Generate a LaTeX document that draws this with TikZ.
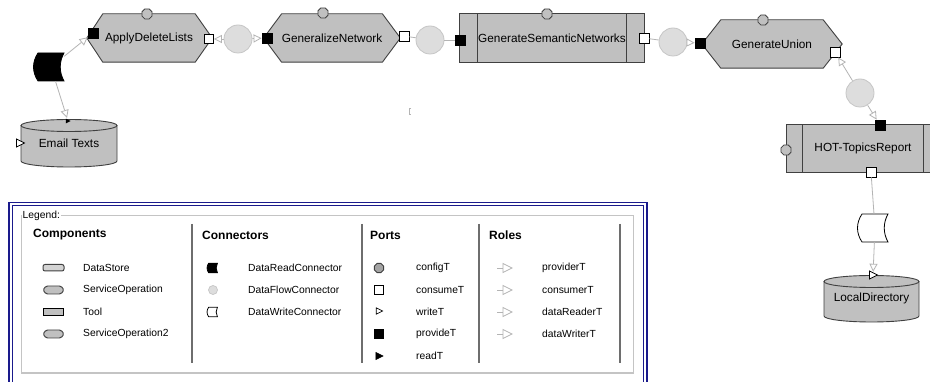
\documentclass[tikz,border=0pt]{standalone}
\usepackage{fontspec}
\setmainfont{Liberation Sans}
\usetikzlibrary{shapes.geometric,arrows.meta,calc}
\pgfdeclarelayer{bg}
\pgfsetlayers{bg,main}
\definecolor{compfill}{HTML}{C0C0C0}
\definecolor{compline}{HTML}{404040}
\definecolor{flowfill}{HTML}{DDDDDD}
\definecolor{flowline}{HTML}{C6C6C6}
\definecolor{wire}{HTML}{B4B4B4}
\definecolor{legblue}{HTML}{1A1A8C}
\definecolor{grpframe}{HTML}{C4C4C4}
\definecolor{sepcol}{HTML}{6E6E6E}
\tikzset{
  lbl/.style={font=\fontsize{11.8}{14}\selectfont, inner sep=0pt, text=black},
  compbox/.style={lbl, minimum height=48pt},
  shapefill/.style={fill=compfill, draw=compline, line width=0.9pt},
  prov/.style={draw=black, fill=black, minimum size=10pt, inner sep=0pt, line width=0.8pt},
  cons/.style={draw=black, fill=white, minimum size=10pt, inner sep=0pt, line width=0.8pt},
  cfg/.style={regular polygon, regular polygon sides=8, draw=compline, fill=compfill, minimum size=11pt, inner sep=0pt, line width=0.8pt},
  flow/.style={circle, fill=flowfill, draw=flowline, line width=0.8pt, minimum size=28pt, inner sep=0pt},
  wirel/.style={draw=wire, line width=0.8pt},
  role/.style={wirel, -{Triangle[fill=white, length=8pt, width=8pt]}},
  connbox/.style={minimum width=26pt, minimum height=28pt, inner sep=0pt},
  portpt/.style={circle, minimum size=6pt, inner sep=0pt},
  legtxt/.style={font=\fontsize{10.3}{12}\selectfont, anchor=west, inner sep=0pt},
  leghead/.style={font=\bfseries\fontsize{12}{14}\selectfont, anchor=west, inner sep=0pt},
  connshape/.pic={
    \path[pic actions] (-13pt,14pt) -- (13pt,14pt) .. controls (8pt,5pt) and (8pt,-5pt) .. (13pt,-14pt)
      -- (-13pt,-14pt) .. controls (-19pt,-5pt) and (-19pt,5pt) .. (-13pt,14pt) -- cycle;
  },
  wtri/.pic={
    \path[pic actions] (-3.5pt,4pt) -- (4.5pt,0pt) -- (-3.5pt,-4pt) -- cycle;
  },
  hexicon/.pic={
    \path[pic actions, rounded corners=1.5pt] (-10.5pt,0pt) -- (-7.5pt,4pt) -- (7.5pt,4pt) -- (10.5pt,0pt)
      -- (7.5pt,-4pt) -- (-7.5pt,-4pt) -- cycle;
  },
}
\begin{document}
\begin{tikzpicture}[x=1pt,y=-1pt]
\useasboundingbox (0,0) rectangle (930,382);
\clip (0,0) rectangle (930,382);

% ---------- components ----------
\node[compbox, minimum width=92pt] (adl) at (149,38) {ApplyDeleteLists};
\node[compbox, minimum width=99pt] (gn) at (332,38) {GeneralizeNetwork};
\node[compbox, minimum width=184pt] (gsn) at (552,38) {GenerateSemanticNetworks};
\node[compbox, minimum width=102pt] (gu) at (772,44) {GenerateUnion};
\node[compbox, minimum width=152pt, minimum height=47pt] (hot) at (863,148.5) {HOT-TopicsReport};
\node[lbl] (et) at (69,143) {Email Texts};
\node[lbl] (ld) at (871.5,298.5) {LocalDirectory};

\begin{pgfonlayer}{bg}
  \fill[white] (0,0) rectangle (930,382);
  \draw[shapefill] ($(adl.west)+(-16,0)$) -- (adl.north west) -- (adl.north east) -- ($(adl.east)+(17,0)$)
    -- (adl.south east) -- (adl.south west) -- cycle;
  \draw[shapefill] ($(gn.west)+(-18,0)$) -- (gn.north west) -- (gn.north east) -- ($(gn.east)+(18,0)$)
    -- (gn.south east) -- (gn.south west) -- cycle;
  \draw[shapefill] ($(gu.west)+(-19,0)$) -- (gu.north west) -- (gu.north east) -- ($(gu.east)+(19,0)$)
    -- (gu.south east) -- (gu.south west) -- cycle;
  \draw[shapefill] (gsn.north west) rectangle (gsn.south east);
  \draw[compline, line width=0.9pt] ($(gsn.north west)+(18,0)$) -- ($(gsn.south west)+(18,0)$);
  \draw[compline, line width=0.9pt] ($(gsn.north east)+(-18,0)$) -- ($(gsn.south east)+(-18,0)$);
  \draw[shapefill] (hot.north west) rectangle (hot.south east);
  \draw[compline, line width=0.9pt] ($(hot.north west)+(16,0)$) -- ($(hot.south west)+(16,0)$);
  \draw[compline, line width=0.9pt] ($(hot.north east)+(-16,0)$) -- ($(hot.south east)+(-16,0)$);
  % Email Texts cylinder
  \fill[compfill] (21,125.5) -- (21,161) arc[start angle=180, end angle=360, x radius=48pt, y radius=6pt] -- (117,125.5) -- cycle;
  \draw[compline, line width=0.9pt] (21,125.5) -- (21,161) arc[start angle=180, end angle=360, x radius=48pt, y radius=6pt] -- (117,125.5);
  \draw[shapefill] (69,125.5) ellipse [x radius=48pt, y radius=6pt];
  % LocalDirectory cylinder
  \fill[compfill] (824,281.5) -- (824,316) arc[start angle=180, end angle=360, x radius=47.5pt, y radius=6pt] -- (919,281.5) -- cycle;
  \draw[compline, line width=0.9pt] (824,281.5) -- (824,316) arc[start angle=180, end angle=360, x radius=47.5pt, y radius=6pt] -- (919,281.5);
  \draw[shapefill] (871.5,281.5) ellipse [x radius=47.5pt, y radius=6pt];
\end{pgfonlayer}

% ---------- ports and connectors ----------
\node[cfg] (adlcfg) at (147,14) {};
\node[prov] (adlprov) at (93,33) {};
\node[cons, minimum size=9pt] (adlcons) at (209,39) {};
\node[flow] (c1) at (238,39) {};
\node[prov] (gnprov) at (267,38) {};
\node[cfg] (gncfg) at (323,13) {};
\node[cons] (gncons) at (404,36) {};
\node[flow] (c2) at (430,40) {};
\node[prov] (gsnprov) at (460,40) {};
\node[cfg] (gsncfg) at (547,14) {};
\node[cons] (gsncons) at (644,38) {};
\node[flow] (c3) at (673,42) {};
\node[prov] (guprov) at (700,43) {};
\node[cfg] (gucfg) at (763,20) {};
\node[cons] (gucons) at (835,52) {};
\node[flow] (c4) at (860,93) {};
\node[prov] (hotprov) at (880,125) {};
\node[cfg] (hotcfg) at (786,150) {};
\node[cons] (hotcons) at (871,172) {};

\node[connbox] (rc) at (51,67) {};
\pic[draw=black, fill=black, line width=0.8pt] at (rc) {connshape};
\node[connbox] (wc) at (875,228) {};
\pic[draw=black, fill=white, line width=0.8pt] at (wc) {connshape};

\node[portpt] (etread) at (68,121) {};
\pic[fill=black, scale=0.6] at (etread) {wtri};
\node[portpt] (etwrite) at (20,143) {};
\pic[draw=black, fill=white, line width=0.7pt] at (etwrite) {wtri};
\node[portpt] (ldport) at (873,275) {};
\pic[draw=black, fill=white, line width=0.7pt] at (ldport) {wtri};

\draw[role] (rc) -- (adlprov);
\draw[role] (rc) -- (etread);
\draw[role] (c1) -- (adlcons);
\draw[role] (c1) -- (gnprov);
\draw[wirel] (gncons) -- (c2);
\draw[wirel] (c2) -- (gsnprov);
\draw[wirel] (gsncons) -- (c3);
\draw[role] (c3) -- (guprov);
\draw[role] (c4) -- (gucons);
\draw[role] (c4) -- (hotprov);
\draw[wirel] (hotcons) -- (wc);
\draw[role] (wc) -- (ldport);

% tiny mark
\draw[wire, line width=0.7pt] (411,108) -- (409,108) -- (409,114) -- (411,114);

% ---------- legend ----------
\draw[legblue, line width=1.3pt] (9,202.5) rectangle (647,400);
\draw[legblue, line width=1.3pt] (12.5,205.5) rectangle (643.5,400);
\draw[grpframe, line width=1pt] (21,216) rectangle (633,373);
\node[legtxt, fill=white, inner xsep=1pt] (legtitle) at (21.5,216) {Legend:};

\draw[sepcol, line width=1.4pt] (192,224) -- (192,363);
\draw[sepcol, line width=1.4pt] (362,224) -- (362,363);
\draw[sepcol, line width=1.4pt] (479,224) -- (479,363);
\draw[sepcol, line width=1.4pt] (620,224) -- (620,363);

\node[leghead] (hcomp) at (33,235) {Components};
\node[leghead] (hconn) at (202,235) {Connectors};
\node[leghead] (hport) at (370,235) {Ports};
\node[leghead] (hrole) at (489,235) {Roles};

% components column
\draw[compline, fill=compfill!70!white, line width=1pt, rounded corners=2pt] (43,264.5) rectangle (64,271);
\pic[draw=compline, fill=compfill, line width=0.9pt] at (53.5,290) {hexicon};
\draw[black, fill=compfill, line width=1.5pt] (43.5,308.5) rectangle (63.5,315.5);
\pic[draw=compline, fill=compfill, line width=0.9pt] at (53.5,334) {hexicon};
\node[legtxt] (lds) at (83,268) {DataStore};
\node[legtxt] (lso) at (83,290) {ServiceOperation};
\node[legtxt] (ltool) at (83,312) {Tool};
\node[legtxt] (lso2) at (83,334) {ServiceOperation2};

% connectors column
\pic[draw=black, fill=black, scale=0.34, line width=0.8pt] at (213,268) {connshape};
\draw[flowline, fill=flowfill, line width=0.7pt] (213,290) circle[radius=4.5pt];
\pic[draw=black, fill=white, scale=0.34, line width=0.8pt] at (213,312) {connshape};
\node[legtxt] (ldrc) at (248,268) {DataReadConnector};
\node[legtxt] (ldfc) at (248,290) {DataFlowConnector};
\node[legtxt] (ldwc) at (248,312) {DataWriteConnector};

% ports column
\node[cfg, minimum size=10pt, fill=compfill!85!black] (pcfg) at (379,268) {};
\node[cons, minimum size=8.5pt] (pcons) at (379,290) {};
\pic[draw=black, fill=white, line width=0.6pt, scale=0.8] at (379,311) {wtri};
\node[prov, minimum size=8.5pt] (pprov) at (379,334) {};
\pic[draw=black, fill=black, line width=0.6pt, scale=0.9] at (379,356) {wtri};
\node[legtxt] (lcfg) at (416,268) {configT};
\node[legtxt] (lcons) at (416,290) {consumeT};
\node[legtxt] (lwrite) at (416,312) {writeT};
\node[legtxt] (lprov) at (416,334) {provideT};
\node[legtxt] (lread) at (416,356) {readT};

% roles column
\foreach \yy in {268,290,312,334} {
  \draw[wire, line width=0.8pt] (497,\yy) -- (503,\yy);
  \draw[wire, fill=white, line width=0.8pt] (503,\yy-4.5) -- (512,\yy) -- (503,\yy+4.5) -- cycle;
}
\node[legtxt] (lprovr) at (542,268) {providerT};
\node[legtxt] (lconsr) at (542,290) {consumerT};
\node[legtxt] (ldr) at (542,312) {dataReaderT};
\node[legtxt] (ldw) at (542,334) {dataWriterT};
\end{tikzpicture}
\end{document}
